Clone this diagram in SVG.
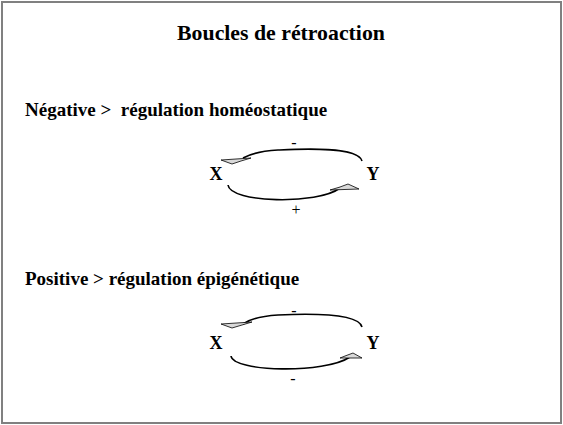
<svg xmlns="http://www.w3.org/2000/svg" width="563" height="425" viewBox="0 0 563 425">
<style>
.t{font-family:"Liberation Serif","Times New Roman",serif;font-weight:bold;fill:#000}
.c{fill:none;stroke:#000;stroke-width:1.6}
.h{fill:#d9d9d9;stroke:#000;stroke-width:0.8}
.s{font-family:"Liberation Serif","Times New Roman",serif;fill:#000;font-size:16px}
</style>
<rect x="2" y="2" width="559" height="421" fill="#fff" stroke="#808080" stroke-width="2"/>
<text class="t" x="281" y="40" font-size="21.8" text-anchor="middle">Boucles de rétroaction</text>
<text class="t" x="25" y="116" font-size="19" xml:space="preserve">Négative &gt;  régulation homéostatique</text>
<text class="t" x="25" y="285" font-size="19">Positive &gt; régulation épigénétique</text>
<g id="loop1">
<g id="X1"><text class="t" x="216" y="180" font-size="18" text-anchor="middle">X</text></g>
<g id="Y1"><text class="t" x="373" y="180" font-size="18" text-anchor="middle">Y</text></g>
<text class="s" x="294" y="148" text-anchor="middle">-</text>
<text class="s" x="296" y="215" text-anchor="middle">+</text>
</g>
<g id="loop2">
<g id="X2"><text class="t" x="216" y="349" font-size="18" text-anchor="middle">X</text></g>
<g id="Y2"><text class="t" x="373" y="349" font-size="18" text-anchor="middle">Y</text></g>
<text class="s" x="294" y="316" text-anchor="middle">-</text>
<text class="s" x="293" y="384" text-anchor="middle">-</text>
</g>
<g id="connectors">
<path class="c" d="M362 161 C358 146,300 149,278 150 C262 151,250 154,243 158"/>
<polygon class="h" points="221,160 251,158 241,161 232,164"/>
<path class="c" d="M228 185 C230 203,318 205,340 188"/>
<polygon class="h" points="359,189 348,184 340,187 330,190"/>
<path class="c" d="M362 327 C358 312,300 314,278 315 C262 316,250 319,243 324"/>
<polygon class="h" points="221,324 252,322 242,325 232,328"/>
<path class="c" d="M231 356 C233 372,325 374,350 357"/>
<polygon class="h" points="362,358 353,353 345,356 340,358"/>
</g>
</svg>
